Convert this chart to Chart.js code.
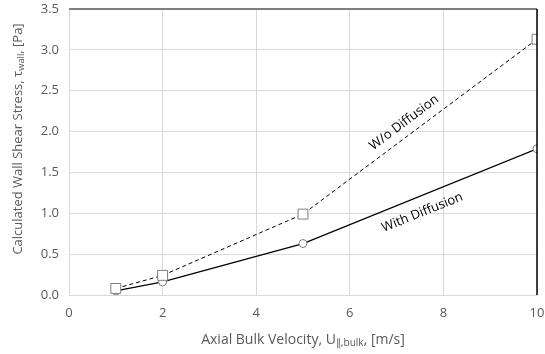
<!DOCTYPE html>
<html>
<head>
<meta charset="utf-8">
<script src="https://cdn.jsdelivr.net/npm/chart.js@4"></script>
<style>
  html, body { margin: 0; padding: 0; background: #fff; }
  #wrap { width: 545px; height: 354px; }
</style>
</head>
<body>
<div id="wrap"><canvas id="myChart"></canvas></div>
<script>
const velocity = [1, 2, 5, 10];
const stressNoDiff = [0.08, 0.24, 0.99, 3.13];
const stressDiff = [0.05, 0.16, 0.63, 1.79];
const xTicks = [0, 2, 4, 6, 8, 10];
const yTicks = [0, 0.5, 1, 1.5, 2, 2.5, 3, 3.5];

// line labels: [text, x, y, angle in degrees]
const lineLabels = [
    ['W/o Diffusion', 7.16, 2.11, -37],
    ['With Diffusion', 7.55, 1.01, -22]
];

const FONT = '"Open Sans", "Liberation Sans", sans-serif';
const GREY = '#595959';

function toXY(xs, ys) {
    return xs.map((x, i) => ({x: x, y: ys[i]}));
}

// draws text pieces with subscripts, centered on (0,0) of the current transform
function drawRich(ctx, parts, size) {
    let total = 0;
    parts.forEach(p => {
        ctx.font = (p.sub ? size * 0.72 : size) + 'px ' + FONT;
        p.w = ctx.measureText(p.t).width;
        total += p.w;
    });
    let x = -total / 2;
    parts.forEach(p => {
        ctx.font = (p.sub ? size * 0.72 : size) + 'px ' + FONT;
        ctx.fillText(p.t, x, p.sub ? size * 0.25 : 0);
        x += p.w;
    });
}

const extras = {
    id: 'extras',
    afterDraw: (chart) => {
        const {ctx, chartArea: a, scales} = chart;
        ctx.save();
        // frame: top grey, right black
        ctx.strokeStyle = '#7f7f7f';
        ctx.lineWidth = 2;
        ctx.beginPath();
        ctx.moveTo(a.left, a.top);
        ctx.lineTo(a.right, a.top);
        ctx.stroke();
        ctx.strokeStyle = '#000';
        ctx.lineWidth = 1.5;
        ctx.beginPath();
        ctx.moveTo(a.right, a.top);
        ctx.lineTo(a.right, a.bottom);
        ctx.stroke();

        ctx.fillStyle = GREY;
        ctx.textBaseline = 'middle';
        // x title
        ctx.save();
        ctx.translate((a.left + a.right) / 2, 340);
        drawRich(ctx, [
            {t: 'Axial Bulk Velocity, U'},
            {t: '\u2225,bulk', sub: true},
            {t: ', [m/s]'}
        ], 14);
        ctx.restore();
        // y title
        ctx.save();
        ctx.translate(18, 139);
        ctx.rotate(-Math.PI / 2);
        drawRich(ctx, [
            {t: 'Calculated Wall Shear Stress, \u03c4'},
            {t: 'wall', sub: true},
            {t: ', [Pa]'}
        ], 13);
        ctx.restore();

        // line labels
        ctx.fillStyle = '#000';
        ctx.font = '13px ' + FONT;
        ctx.textAlign = 'center';
        lineLabels.forEach(([t, x, y, ang]) => {
            ctx.save();
            ctx.translate(scales.x.getPixelForValue(x), scales.y.getPixelForValue(y));
            ctx.rotate(ang * Math.PI / 180);
            ctx.fillText(t, 0, 0);
            ctx.restore();
        });
        ctx.restore();
    }
};

new Chart(document.getElementById('myChart'), {
    type: 'scatter',
    data: {
        datasets: [{
            label: 'W/o Diffusion',
            data: toXY(velocity, stressNoDiff),
            showLine: true,
            borderColor: '#000000',
            borderWidth: 1,
            borderDash: [4, 3],
            pointStyle: 'rect',
            pointRadius: 7,
            pointBorderColor: '#7f7f7f',
            pointBackgroundColor: '#ffffff',
            pointBorderWidth: 1
        }, {
            label: 'With Diffusion',
            data: toXY(velocity, stressDiff),
            showLine: true,
            borderColor: '#000000',
            borderWidth: 1.3,
            pointStyle: 'circle',
            pointRadius: 4,
            pointBorderColor: '#7f7f7f',
            pointBackgroundColor: '#ffffff',
            pointBorderWidth: 1
        }]
    },
    options: {
        responsive: true,
        maintainAspectRatio: false,
        animation: false,
        layout: {padding: {top: 9, right: 7, left: 0, bottom: 0}},
        plugins: {
            legend: {display: false},
            tooltip: {enabled: false}
        },
        scales: {
            x: {
                type: 'linear',
                min: 0,
                max: 10,
                afterBuildTicks: (s) => { s.ticks = xTicks.map(v => ({value: v})); },
                afterFit: (s) => { s.height = 59; s.paddingLeft = 0; s.paddingRight = 0; },
                ticks: {color: GREY, font: {family: FONT, size: 13}, padding: 10, maxRotation: 0},
                grid: {color: '#d9d9d9', drawTicks: false},
                border: {color: '#d9d9d9'}
            },
            y: {
                min: 0,
                max: 3.5,
                afterBuildTicks: (s) => { s.ticks = yTicks.map(v => ({value: v})); },
                afterFit: (s) => { s.width = 69; s.paddingTop = 0; s.paddingBottom = 0; },
                ticks: {color: GREY, font: {family: FONT, size: 13}, padding: 10,
                    callback: (v) => v.toFixed(1)},
                grid: {color: '#d9d9d9', drawTicks: false},
                border: {color: '#d9d9d9'}
            }
        }
    },
    plugins: [extras]
});
</script>
</body>
</html>
